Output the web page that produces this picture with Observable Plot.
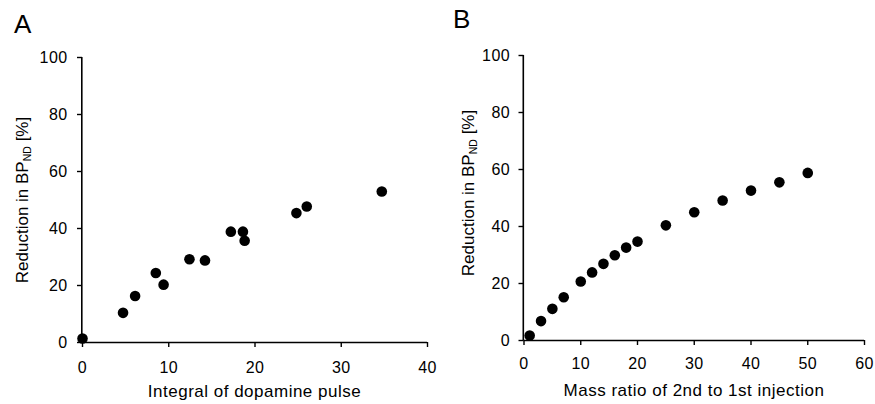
<!DOCTYPE html>
<html>
<head>
<meta charset="utf-8">
<script src="https://cdn.jsdelivr.net/npm/d3@7"></script>
<script src="https://cdn.jsdelivr.net/npm/@observablehq/plot@0.6"></script>
<style>
  html, body { margin: 0; padding: 0; background: #fff; }
  #wrap { position: relative; width: 875px; height: 404px; overflow: hidden; background: #fff;
          font-family: "Liberation Sans", Arial, Helvetica, sans-serif; color: #000; }
  .panel { position: absolute; top: 0; }
  .panel svg g[aria-label$="tick"] path { stroke-width: 1.4; }
  .panel svg g[aria-label$="tick label"] text { letter-spacing: 0.4px; }
  .letter { position: absolute; font-size: 26px; line-height: 26px; white-space: nowrap; }
  .xlab { position: absolute; font-size: 17px; line-height: 17px; letter-spacing: 0.5px;
          white-space: nowrap; transform: translateX(-50%); }
  .ylab { position: absolute; font-size: 17px; line-height: 17px; white-space: nowrap;
          transform: translate(-50%, -50%) rotate(-90deg); }
  .ylab sub { font-size: 0.62em; vertical-align: -0.3em; line-height: 0; }
</style>
</head>
<body>
<div id="wrap"></div>
<script>
// ---- Data ----
const integralDopamine = [0, 4.7, 6.1, 8.5, 9.4, 12.4, 14.2, 17.2, 18.6, 18.8, 24.8, 26.0, 34.7];
const reductionA       = [1.4, 10.4, 16.3, 24.4, 20.3, 29.2, 28.8, 38.9, 38.9, 35.7, 45.4, 47.7, 53.0];

const massRatio  = [1, 3, 5, 7, 10, 12, 14, 16, 18, 20, 25, 30, 35, 40, 45, 50];
const reductionB = [1.75, 6.8, 11.1, 15.2, 20.7, 23.9, 26.9, 29.9, 32.6, 34.7, 40.4, 45.0, 49.1, 52.6, 55.5, 58.8];

const xTicksA = [0, 10, 20, 30, 40];
const xTicksB = [0, 10, 20, 30, 40, 50, 60];
const yTicks  = [0, 20, 40, 60, 80, 100];

const panelLetters = ["A", "B"];
const xLabels = ["Integral of dopamine pulse", "Mass ratio of 2nd to 1st injection"];
const yLabelMain = "Reduction in BP";
const yLabelSub = "ND";
const yLabelTail = " [%]";

// ---- Build tables ----
const dataA = integralDopamine.map((x, i) => ({x, y: reductionA[i]}));
const dataB = massRatio.map((x, i) => ({x, y: reductionB[i]}));

const wrap = document.getElementById("wrap");

function panel(data, xDomain, xTicks, opts) {
  const chart = Plot.plot({
    width: opts.width,
    height: 404,
    marginLeft: opts.ml,
    marginRight: opts.mr,
    marginTop: opts.mt,
    marginBottom: opts.mb,
    style: {
      fontFamily: '"Liberation Sans", Arial, Helvetica, sans-serif',
      fontSize: "16px",
      color: "#000",
      background: "transparent",
      overflow: "visible"
    },
    x: {domain: xDomain, ticks: xTicks, tickSize: 5, tickPadding: opts.xpad, tickFormat: d3.format("d"), label: null},
    y: {domain: [0, 100], ticks: yTicks, tickSize: 5, tickPadding: opts.ypad, tickFormat: d3.format("d"), label: null},
    marks: [
      Plot.ruleY([0], {stroke: "#000", strokeWidth: 1.6}),
      Plot.ruleX([0], {stroke: "#000", strokeWidth: 1.6, dx: -0.7}),
      Plot.dot(data, {x: "x", y: "y", r: 5.3, fill: "#000", stroke: "none"})
    ]
  });
  const div = document.createElement("div");
  div.className = "panel";
  div.style.left = opts.left + "px";
  div.appendChild(chart);
  wrap.appendChild(div);
}

panel(dataA, [0, 40], xTicksA, {left: 0, width: 437, ml: 82, mr: 10, mt: 57, mb: 62, xpad: 14, ypad: 10});
panel(dataB, [0, 60], xTicksB, {left: 437, width: 438, ml: 86.5, mr: 11, mt: 55, mb: 64, xpad: 12, ypad: 9});

function addText(cls, html, left, top) {
  const d = document.createElement("div");
  d.className = cls;
  d.innerHTML = html;
  d.style.left = left + "px";
  d.style.top = top + "px";
  wrap.appendChild(d);
}

addText("letter", panelLetters[0], 14, 11);
addText("letter", panelLetters[1], 453, 6);
addText("xlab", xLabels[0], 254.5, 382.6);
addText("xlab", xLabels[1], 694, 382.3);
const yl = `${yLabelMain}<sub>${yLabelSub}</sub>${yLabelTail}`;
addText("ylab", yl, 21.5, 199.5);
addText("ylab", yl, 467.5, 193);
</script>
</body>
</html>
